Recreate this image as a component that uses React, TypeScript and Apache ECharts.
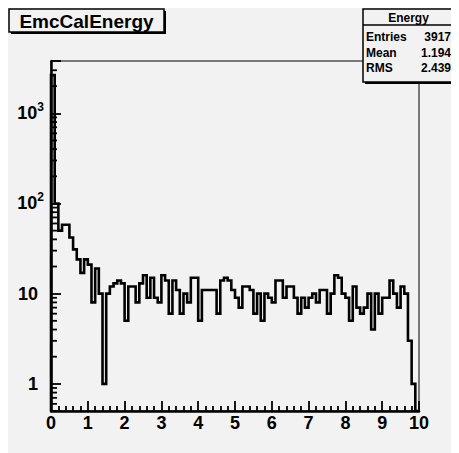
import React, { useEffect, useRef } from 'react';
import * as echarts from 'echarts';

// ---- data ----
const TITLE = 'EmcCalEnergy';
const STAT_NAME = 'Energy';
const STAT_LABELS = ['Entries', 'Mean', 'RMS'];
const STAT_VALUES = ['3917', '1.194', '2.439'];

const X_MIN = 0;
const X_MAX = 10;
const BIN_WIDTH = 0.1;
const Y_MIN = 0.5;
const Y_MAX = 3800;

const Y_MINOR_TICKS = [
  0.6, 0.7, 0.8, 0.9,
  2, 3, 4, 5, 6, 7, 8, 9,
  20, 30, 40, 50, 60, 70, 80, 90,
  200, 300, 400, 500, 600, 700, 800, 900,
  2000, 3000,
];

// bin contents, 100 bins of width 0.1 from 0 to 10
const COUNTS = [
  2650, 100, 50, 58, 58, 42, 31, 24, 17, 24,
  21, 8, 19, 10, 1, 10, 12, 13, 14, 13,
  5, 12, 12, 8, 13, 16, 9, 15, 9, 8,
  16, 14, 6, 14, 11, 6, 10, 8, 15, 15,
  5, 11, 11, 11, 11, 6, 14, 15, 14, 11,
  9, 7, 12, 12, 11, 6, 10, 5, 10, 9,
  8, 14, 14, 9, 12, 12, 9, 6, 9, 7,
  9, 10, 8, 11, 11, 6, 10, 16, 15, 10,
  9, 5, 12, 7, 6, 7, 10, 4, 10, 6,
  9, 9, 14, 10, 7, 12, 10, 3, 1, 0,
];

const FONT = '"Liberation Sans", Arial, Helvetica, sans-serif';
const BG = '#f2f2f2';

function histPoints(): number[][] {
  const pts: number[][] = [[X_MIN, Y_MIN]];
  COUNTS.forEach((c, i) => {
    const lo = +(X_MIN + i * BIN_WIDTH).toFixed(4);
    const hi = +(X_MIN + (i + 1) * BIN_WIDTH).toFixed(4);
    const v = Math.max(c, Y_MIN);
    pts.push([lo, v], [hi, v]);
  });
  pts.push([X_MAX, Y_MIN]);
  return pts;
}

function boxWithShadow(x: number, y: number, w: number, h: number, children: any[]) {
  return {
    type: 'group',
    children: [
      { type: 'rect', shape: { x: x + 2, y: y + 2, width: w, height: h }, style: { fill: '#000' } },
      { type: 'rect', shape: { x, y, width: w, height: h }, style: { fill: BG, stroke: '#000', lineWidth: 1.5 } },
      ...children,
    ],
  };
}

export default function App() {
  const ref = useRef<HTMLDivElement>(null);

  useEffect(() => {
    if (!ref.current) return;
    const chart = echarts.init(ref.current, undefined, { renderer: 'svg' });

    const statRows = STAT_LABELS.map((lab, i) => [
      {
        type: 'text',
        style: { text: lab, x: 358, y: 29 + i * 15.5, verticalAlign: 'middle', align: 'left', font: `bold 12px ${FONT}`, fill: '#000' },
      },
      {
        type: 'text',
        style: { text: STAT_VALUES[i], x: 443, y: 29 + i * 15.5, verticalAlign: 'middle', align: 'right', font: `bold 12px ${FONT}`, fill: '#000' },
      },
    ]).flat();

    const boxes = [
      boxWithShadow(1, 1, 155, 23, [
        {
          type: 'text',
          style: { text: TITLE, x: 78.5, y: 13, align: 'center', verticalAlign: 'middle', font: `bold 19px ${FONT}`, fill: '#000' },
        },
      ]),
      boxWithShadow(355, 1, 91, 73, [
        { type: 'line', shape: { x1: 355, y1: 17, x2: 446, y2: 17 }, style: { stroke: '#000', lineWidth: 1.5 } },
        {
          type: 'text',
          style: { text: STAT_NAME, x: 400.5, y: 9.5, align: 'center', verticalAlign: 'middle', font: `bold 12px ${FONT}`, fill: '#000' },
        },
        ...statRows,
      ]),
    ];

    const option: any = {
      animation: false,
      backgroundColor: BG,
      grid: {
        left: 43,
        right: 40,
        top: 53,
        bottom: 42,
        show: true,
        borderColor: '#000',
        borderWidth: 1,
        backgroundColor: 'transparent',
        outerBoundsMode: 'none',
      },
      xAxis: {
        type: 'value',
        min: X_MIN,
        max: X_MAX,
        interval: 1,
        axisLine: { show: true, onZero: false, lineStyle: { color: '#000', width: 2.5 } },
        axisTick: { show: true, inside: true, length: 10, lineStyle: { color: '#000', width: 1.8 } },
        minorTick: { show: true, splitNumber: 5, length: 5, lineStyle: { color: '#000', width: 1.8 } },
        splitLine: { show: false },
        minorSplitLine: { show: false },
        axisLabel: { color: '#000', fontSize: 18, fontWeight: 'bold', fontFamily: FONT, margin: 3 },
      },
      yAxis: {
        type: 'log',
        logBase: 10,
        min: Y_MIN,
        max: Y_MAX,
        axisLine: { show: true, onZero: false, lineStyle: { color: '#000', width: 2.5 } },
        axisTick: { show: true, inside: true, length: 10, lineStyle: { color: '#000', width: 1.8 } },
        splitLine: { show: false },
        axisLabel: {
          margin: 7,
          formatter: (v: number) => {
            const l = Math.log10(v);
            const e = Math.round(l);
            if (Math.abs(l - e) > 1e-6) return '';
            if (e === 0) return '{p|1}';
            if (e === 1) return '{p|10}';
            return '{m|10}{s|' + e + '}';
          },
          rich: {
            m: { fontSize: 18, fontWeight: 'bold', fontFamily: FONT, color: '#000' },
            p: { fontSize: 18, fontWeight: 'bold', fontFamily: FONT, color: '#000', padding: [0, 6, 0, 0] },
            s: { fontSize: 12, fontWeight: 'bold', fontFamily: FONT, color: '#000', padding: [0, 0, 12, 0] },
          },
        },
      },
      series: [
        {
          type: 'line',
          data: histPoints(),
          showSymbol: false,
          symbol: 'none',
          clip: true,
          lineStyle: { color: '#000', width: 2.6, join: 'miter', cap: 'butt' },
          silent: true,
          z: 4,
        },
      ],
      graphic: boxes,
    };

    chart.setOption(option);

    // minor ticks on the log axis, positioned through the chart's own scales
    const tickLines = Y_MINOR_TICKS.map((v) => {
      const p = chart.convertToPixel({ xAxisIndex: 0, yAxisIndex: 0 }, [X_MIN, v]) as number[];
      return {
        type: 'rect',
        silent: true,
        shape: { x: p[0], y: p[1] - 0.9, width: 6, height: 1.8 },
        style: { fill: '#000' },
      };
    });
    chart.setOption({ graphic: [...boxes, { type: 'group', z: 100, children: tickLines }] });

    return () => chart.dispose();
  }, []);

  return <div ref={ref} style={{ width: 451, height: 445 }} />;
}
